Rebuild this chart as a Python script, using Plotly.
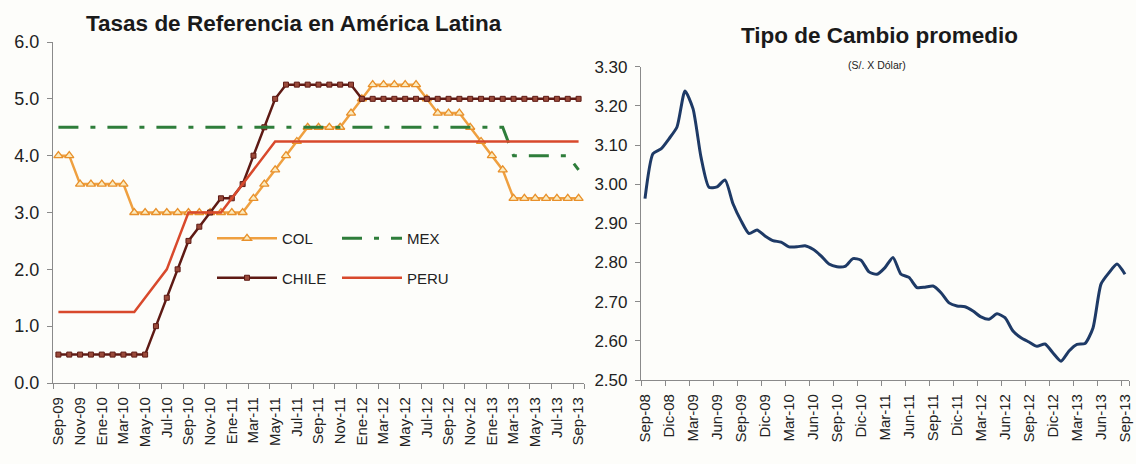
import plotly.graph_objects as go

# ---------------- data ----------------
months_fx = [
    "Sep-08", "Oct-08", "Nov-08", "Dic-08",
    "Ene-09", "Feb-09", "Mar-09", "Abr-09", "May-09", "Jun-09", "Jul-09", "Ago-09", "Sep-09", "Oct-09", "Nov-09", "Dic-09",
    "Ene-10", "Feb-10", "Mar-10", "Abr-10", "May-10", "Jun-10", "Jul-10", "Ago-10", "Sep-10", "Oct-10", "Nov-10", "Dic-10",
    "Ene-11", "Feb-11", "Mar-11", "Abr-11", "May-11", "Jun-11", "Jul-11", "Ago-11", "Sep-11", "Oct-11", "Nov-11", "Dic-11",
    "Ene-12", "Feb-12", "Mar-12", "Abr-12", "May-12", "Jun-12", "Jul-12", "Ago-12", "Sep-12", "Oct-12", "Nov-12", "Dic-12",
    "Ene-13", "Feb-13", "Mar-13", "Abr-13", "May-13", "Jun-13", "Jul-13", "Ago-13", "Sep-13",
]
months_rates = months_fx[12:]  # Sep-09 .. Sep-13

col = [4.0, 4.0, 3.5, 3.5, 3.5, 3.5, 3.5,
       3.0, 3.0, 3.0, 3.0, 3.0, 3.0, 3.0, 3.0, 3.0, 3.0, 3.0,
       3.25, 3.5, 3.75, 4.0, 4.25, 4.5, 4.5, 4.5, 4.5, 4.75, 5.0,
       5.25, 5.25, 5.25, 5.25, 5.25, 5.0, 4.75, 4.75, 4.75, 4.5, 4.25, 4.0, 3.75,
       3.25, 3.25, 3.25, 3.25, 3.25, 3.25, 3.25]
chile = [0.5, 0.5, 0.5, 0.5, 0.5, 0.5, 0.5, 0.5, 0.5,
         1.0, 1.5, 2.0, 2.5, 2.75, 3.0, 3.25, 3.25, 3.5, 4.0, 4.5, 5.0,
         5.25, 5.25, 5.25, 5.25, 5.25, 5.25, 5.25,
         5.0, 5.0, 5.0, 5.0, 5.0, 5.0, 5.0, 5.0, 5.0, 5.0, 5.0, 5.0, 5.0, 5.0, 5.0, 5.0, 5.0, 5.0, 5.0, 5.0, 5.0]
peru = [1.25, 1.25, 1.25, 1.25, 1.25, 1.25, 1.25, 1.25,
        1.5, 1.75, 2.0, 2.5, 3.0, 3.0, 3.0, 3.0, 3.25, 3.5, 3.75, 4.0,
        4.25, 4.25, 4.25, 4.25, 4.25, 4.25, 4.25, 4.25, 4.25, 4.25, 4.25, 4.25, 4.25, 4.25, 4.25,
        4.25, 4.25, 4.25, 4.25, 4.25, 4.25, 4.25, 4.25, 4.25, 4.25, 4.25, 4.25, 4.25, 4.25]
mex = [4.5] * 42 + [4.0, 4.0, 4.0, 4.0, 4.0, 4.0, 3.75]

fx = [2.963, 3.078, 3.090, 3.116, 3.146, 3.238, 3.193, 3.069, 2.992, 2.993,
      3.011, 2.950, 2.907, 2.874, 2.883, 2.868, 2.856, 2.852, 2.840, 2.840,
      2.843, 2.834, 2.817, 2.796, 2.789, 2.790, 2.810, 2.806, 2.776, 2.770,
      2.787, 2.813, 2.770, 2.762, 2.736, 2.737, 2.740, 2.723, 2.697, 2.689,
      2.687, 2.676, 2.661, 2.655, 2.669, 2.659, 2.625, 2.608, 2.597, 2.586,
      2.592, 2.569, 2.548, 2.574, 2.591, 2.593, 2.633, 2.745, 2.774, 2.796,
      2.770]

left_ticks = months_rates[::2]
right_ticks = months_fx[::3]

W, H = 1136, 464
FONT = "Arial, 'Liberation Sans', sans-serif"

def px_x(p):
    return p / W

def px_y(p):
    return 1 - p / H

fig = go.Figure()

fig.add_trace(go.Scatter(
    x=months_rates, y=col, name="COL", mode="lines+markers",
    line=dict(color="#EFA040", width=2.5),
    marker=dict(symbol="triangle-up", size=8, color="#FBEBC0",
                line=dict(color="#E8902A", width=1.3)),
    xaxis="x", yaxis="y", legend="legend", legendgroup="a"))
fig.add_trace(go.Scatter(
    x=months_rates, y=chile, name="CHILE", mode="lines+markers",
    line=dict(color="#5E1A14", width=2.5),
    marker=dict(symbol="square", size=5, color="#9A4A3A",
                line=dict(color="#5E1A14", width=1)),
    xaxis="x", yaxis="y", legend="legend", legendgroup="b"))
fig.add_trace(go.Scatter(
    x=months_rates, y=mex, name="MEX", mode="lines",
    line=dict(color="#2E7D3A", width=3, dash="20px,12px,5px,12px"),
    xaxis="x", yaxis="y", legend="legend2", legendgroup="c"))
fig.add_trace(go.Scatter(
    x=months_rates, y=peru, name="PERU", mode="lines",
    line=dict(color="#D8492C", width=2.5),
    xaxis="x", yaxis="y", legend="legend2", legendgroup="d"))

fig.add_trace(go.Scatter(
    x=months_fx, y=fx, name="Tipo de Cambio", mode="lines",
    line=dict(color="#1E3A66", width=3, shape="spline", smoothing=0.6),
    xaxis="x2", yaxis="y2", showlegend=False))

axis_common = dict(
    showgrid=False, zeroline=False, showline=True, linecolor="#8a8a8a", linewidth=1.2,
    ticks="outside", tickcolor="#8a8a8a", ticklen=5, tickwidth=1, automargin=False,
    tickfont=dict(family=FONT, size=15, color="#222222"),
)

fig.update_layout(
    template="none",
    width=W, height=H,
    margin=dict(l=0, r=0, t=0, b=0),
    paper_bgcolor="#FDFDFA", plot_bgcolor="#FDFDFA",
    font=dict(family=FONT, color="#222222"),
    xaxis=dict(axis_common, type="category", domain=[px_x(53), px_x(584)], anchor="y",
               range=[-0.5, len(months_rates) - 0.5],
               tickmode="array", tickvals=left_ticks, ticktext=left_ticks,
               tickangle=-90, tickson="boundaries", ticklabelstandoff=7),
    yaxis=dict(axis_common, domain=[px_y(383), px_y(42)], anchor="x",
               range=[0, 6], dtick=1, tickformat=".1f", ticklabelstandoff=4,
               tickfont=dict(family=FONT, size=18, color="#222222")),
    xaxis2=dict(axis_common, type="category", domain=[px_x(641), px_x(1129)], anchor="y2",
                range=[-0.5, len(months_fx) - 0.5],
                tickmode="array", tickvals=right_ticks, ticktext=right_ticks,
                tickangle=-90, tickson="boundaries", ticklabelstandoff=7),
    yaxis2=dict(axis_common, domain=[px_y(380), px_y(66.7)], anchor="x2",
                range=[2.5, 3.3], dtick=0.1, tickformat=".2f", ticklabelstandoff=4,
                tickfont=dict(family=FONT, size=17, color="#222222")),
    legend=dict(x=px_x(212), y=px_y(222), xanchor="left", yanchor="top",
                bgcolor="rgba(0,0,0,0)", font=dict(family=FONT, size=15, color="#222222"),
                tracegroupgap=17, itemwidth=60, traceorder="grouped"),
    legend2=dict(x=px_x(337), y=px_y(222), xanchor="left", yanchor="top",
                 bgcolor="rgba(0,0,0,0)", font=dict(family=FONT, size=15, color="#222222"),
                 tracegroupgap=17, itemwidth=60, traceorder="grouped"),
    annotations=[
        dict(text="<b>Tasas de Referencia en América Latina</b>", x=px_x(294), y=px_y(24),
             xref="paper", yref="paper", showarrow=False, xanchor="center", yanchor="middle",
             font=dict(family=FONT, size=22.5, color="#1a1a1a")),
        dict(text="<b>Tipo de Cambio promedio</b>", x=px_x(879), y=px_y(36),
             xref="paper", yref="paper", showarrow=False, xanchor="center", yanchor="middle",
             font=dict(family=FONT, size=22.5, color="#1a1a1a")),
        dict(text="(S/. X Dólar)", x=px_x(877), y=px_y(65),
             xref="paper", yref="paper", showarrow=False, xanchor="center", yanchor="middle",
             font=dict(family=FONT, size=10.5, color="#222222")),
    ],
)

fig.write_html("out.html")
